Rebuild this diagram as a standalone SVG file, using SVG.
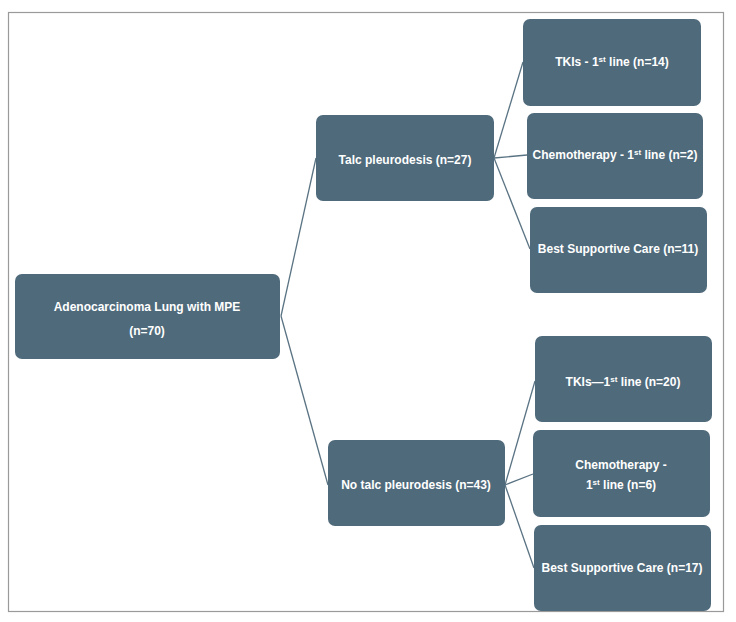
<svg xmlns="http://www.w3.org/2000/svg" width="736" height="622" viewBox="0 0 736 622">
<style>
.box{fill:#4f6a7b;stroke:none}
.t{font-family:"Liberation Sans",Arial,sans-serif;font-weight:bold;font-size:12px;fill:#ffffff;text-anchor:middle}
.sup{font-size:8px}
.c{stroke:#5a7383;stroke-width:1.3;fill:none}
</style>
<rect x="0" y="0" width="736" height="622" fill="#ffffff"/>
<rect x="8.5" y="12.5" width="715" height="599" fill="none" stroke="#9a9a9a" stroke-width="1.2"/>
<g id="connectors">
<line class="c" x1="281" y1="316" x2="316" y2="158"/>
<line class="c" x1="281" y1="316" x2="328" y2="485"/>
<line class="c" x1="494" y1="158" x2="523" y2="62"/>
<line class="c" x1="494" y1="158" x2="527" y2="155"/>
<line class="c" x1="494" y1="158" x2="530" y2="249"/>
<line class="c" x1="505" y1="485" x2="535" y2="381"/>
<line class="c" x1="505" y1="485" x2="533" y2="474"/>
<line class="c" x1="505" y1="485" x2="534" y2="568"/>
</g>
<g id="root">
<rect class="box" x="15" y="274" width="265" height="85" rx="7"/>
<text class="t" x="147" y="311">Adenocarcinoma Lung with MPE</text>
<text class="t" x="147" y="335">(n=70)</text>
</g>
<g id="talc">
<rect class="box" x="316" y="115" width="178" height="86" rx="7"/>
<text class="t" x="405" y="164">Talc pleurodesis (n=27)</text>
</g>
<g id="notalc">
<rect class="box" x="328" y="440" width="177" height="86" rx="7"/>
<text class="t" x="416" y="489">No talc pleurodesis (n=43)</text>
</g>
<g id="tki1">
<rect class="box" x="523" y="19" width="178" height="87" rx="7"/>
<text class="t" x="612" y="66">TKIs - 1<tspan class="sup" dy="-4">st</tspan><tspan dy="4"> line (n=14)</tspan></text>
</g>
<g id="chemo1">
<rect class="box" x="527" y="113" width="176" height="86" rx="7"/>
<text class="t" x="615" y="159">Chemotherapy - 1<tspan class="sup" dy="-4">st</tspan><tspan dy="4"> line (n=2)</tspan></text>
</g>
<g id="bsc1">
<rect class="box" x="530" y="207" width="177" height="86" rx="7"/>
<text class="t" x="618" y="253">Best Supportive Care (n=11)</text>
</g>
<g id="tki2">
<rect class="box" x="535" y="336" width="177" height="86" rx="7"/>
<text class="t" x="623" y="386">TKIs—1<tspan class="sup" dy="-4">st</tspan><tspan dy="4"> line (n=20)</tspan></text>
</g>
<g id="chemo2">
<rect class="box" x="533" y="430" width="177" height="87" rx="7"/>
<text class="t" x="621" y="469">Chemotherapy -</text>
<text class="t" x="621" y="489">1<tspan class="sup" dy="-4">st</tspan><tspan dy="4"> line (n=6)</tspan></text>
</g>
<g id="bsc2">
<rect class="box" x="534" y="525" width="177" height="86" rx="7"/>
<text class="t" x="622" y="572">Best Supportive Care (n=17)</text>
</g>
</svg>
